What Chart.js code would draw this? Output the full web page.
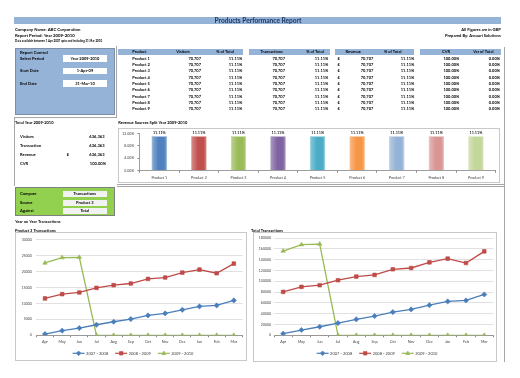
<!DOCTYPE html>
<html><head><meta charset="utf-8">
<script src="https://cdn.jsdelivr.net/npm/chart.js@4.4.1/dist/chart.umd.min.js"></script>
<style>
html,body{margin:0;padding:0;background:#fff;}
#root{position:relative;width:520px;height:378px;overflow:hidden;background:#fff;}
.b{position:absolute;box-sizing:border-box;}
canvas{position:absolute;}
#txt{left:0;top:0;pointer-events:none;z-index:5;}
</style></head><body><div id="root"><canvas id="txt" width="520" height="378"></canvas></div>
<script>
// ---------------- DATA ----------------
const products = ['Product 1','Product 2','Product 3','Product 4','Product 5','Product 6','Product 7','Product 8','Product 9'];
const visitors = [70707,70707,70707,70707,70707,70707,70707,70707,70707];
const visitorsPct = [11.11,11.11,11.11,11.11,11.11,11.11,11.11,11.11,11.11];
const transactions = [70707,70707,70707,70707,70707,70707,70707,70707,70707];
const transactionsPct = [11.11,11.11,11.11,11.11,11.11,11.11,11.11,11.11,11.11];
const revenue = [70707,70707,70707,70707,70707,70707,70707,70707,70707];
const revenuePct = [11.11,11.11,11.11,11.11,11.11,11.11,11.11,11.11,11.11];
const cvr = [100.00,100.00,100.00,100.00,100.00,100.00,100.00,100.00,100.00];
const varOfTotal = [0.00,0.00,0.00,0.00,0.00,0.00,0.00,0.00,0.00];

const totalLabels = ['Visitors','Transaction','Revenue','CVR'];
const totalValues = [636363,636363,636363,100.00];

const revenueShare = [11.11,11.11,11.11,11.11,11.11,11.11,11.11,11.11,11.11];
const shareTicks = [0,2,4,6,8,10,12];

const months = ['Apr','May','Jun','Jul','Aug','Sep','Oct','Nov','Dec','Jan','Feb','Mar'];
const seriesLabels = ['2007 - 2008','2008 - 2009','2009 - 2010'];
const p3Trans0708 = [400,1440,2280,3310,4250,5090,6250,6880,8000,9060,9380,10940];
const p3Trans0809 = [11560,12910,13440,14880,15720,16250,17690,18130,19690,20630,19470,22500];
const p3Trans0910 = [22690,24380,24470,0,0,0,0,0,0,0,0,0];
const totTrans0708 = [2950,9770,15860,22680,29500,35590,42970,47940,55870,62700,64540,75600];
const totTrans0809 = [80400,89620,92750,101970,108800,111750,122260,124650,135170,141990,133870,155450];
const totTrans0910 = [156000,167800,168910,0,0,0,0,0,0,0,0,0];

// ---------------- STYLE ----------------
const FONT = "Lato, 'Liberation Sans', sans-serif";
const HDR = '#95b3d7';
const barColors = ['#4f81bd','#c0504d','#9bbb59','#8064a2','#4bacc6','#f79646','#95b3d7','#d99694','#c3d69b'];
const lineColors = ['#4a7ebb','#be4b48','#98b954'];
const markerStyles = ['rectRot','rect','triangle'];
const markerRadius = [2.6,2.6,2.5];

const root = document.getElementById('root');
const txtCanvas = document.getElementById('txt');
const tctx = txtCanvas.getContext('2d');
function T(txt,x,y,o={}){
  const size=o.size||4.2;
  tctx.save();
  tctx.font=`${o.w||'bold'} ${size}px ${FONT}`;
  tctx.fillStyle=o.c||'#000';
  tctx.textAlign=o.a==='r'?'right':o.a==='c'?'center':'left';
  tctx.textBaseline='alphabetic';
  tctx.fillText(txt,x,y+size*0.36);
  tctx.restore();
}
function B(x,y,w,h,bg,border){
  const d=document.createElement('div'); d.className='b';
  d.style.left=x+'px'; d.style.top=y+'px'; d.style.width=w+'px'; d.style.height=h+'px';
  if(bg) d.style.background=bg; if(border) d.style.border=border;
  root.insertBefore(d,txtCanvas); return d;
}
const fmtN = n => n.toLocaleString('en-GB');
const fmtP = n => n.toFixed(2)+'%';

function build(){
// ---------------- HEADER ----------------
B(14,16.7,487,7.6,HDR);
T('Products Performance Report',258,20.6,{size:6.6,c:'#1f3864',a:'c'});
T('Company Name: ABC Corporation',15,29.3,{size:4.3});
T('Report Period: Year 2009-2010',15,35.4,{size:4.3});
T('Data available between 1 Apr 2007 upto and including 31 Mar 2010',15,41.3,{size:2.9});
T('All Figures are in GBP',500.7,29.3,{size:4.1,a:'r'});
T('Prepared By: Assauri Solutions',500.7,35.6,{size:4.1,a:'r'});

// frame lines
B(116.3,46,0.9,72,'#a6a6a6');
B(14,117.3,103,0.9,'#a6a6a6');
B(14,117.3,0.9,69,'#a6a6a6');
B(504.2,47,0.9,315,'#a6a6a6');
B(117,183.8,388,0.9,'#a6a6a6');
B(117,186,388,0.9,'#a6a6a6');

// ---------------- REPORT CONTROL ----------------
B(15,48,100,67,HDR,'0.8px solid #7f8fa6');
T('Report Control',20,52,{size:4.2});
const rcLabels=['Select Period','Start Date','End Date'];
const rcValues=['Year 2009-2010','1-Apr-09','31-Mar-10'];
const rcY=[58.6,71,83.4];
rcLabels.forEach((l,i)=>{
  T(l,20,rcY[i],{size:4.1});
  B(63,rcY[i]-3.2,44,6.4,'#fff');
  T(rcValues[i],85,rcY[i],{size:4,a:'c'});
});

// ---------------- TABLE ----------------
const groups=[[118,243],[249,330],[335,414],[420,500.5]];
groups.forEach(g=>B(g[0],48.5,g[1]-g[0],6,HDR));
const hy=51.5;
T('Product',132.3,hy,{size:4});
T('Visitors',183,hy,{size:4,a:'c'});
T('% of Total',225,hy,{size:4,a:'c'});
T('Transactions',271.7,hy,{size:4,a:'c'});
T('% of Total',315,hy,{size:4,a:'c'});
T('Revenue',353.3,hy,{size:4,a:'c'});
T('% of Total',392.7,hy,{size:4,a:'c'});
T('CVR',446,hy,{size:4,a:'c'});
T('Var of Total',483.3,hy,{size:4,a:'c'});
products.forEach((p,i)=>{
  const y=58.3+i*6.34;
  T(p,132.3,y,{size:4});
  T(fmtN(visitors[i]),201,y,{size:4,a:'r'});
  T(fmtP(visitorsPct[i]),242.3,y,{size:4,a:'r'});
  T(fmtN(transactions[i]),285,y,{size:4,a:'r'});
  T(fmtP(transactionsPct[i]),328.3,y,{size:4,a:'r'});
  T('£',337.5,y,{size:4});
  T(fmtN(revenue[i]),373.3,y,{size:4,a:'r'});
  T(fmtP(revenuePct[i]),414.3,y,{size:4,a:'r'});
  T(fmtP(cvr[i]),459.3,y,{size:4,a:'r'});
  T(fmtP(varOfTotal[i]),500,y,{size:4,a:'r'});
});

// ---------------- TOTALS ----------------
T('Total Year 2009-2010',15,122.3,{size:4});
const totY=[136.7,145.3,155,164];
totalLabels.forEach((l,i)=>{
  T(l,20,totY[i],{size:4.1});
  const v = l==='CVR'?fmtP(totalValues[i]):fmtN(totalValues[i]);
  T(v,l==='CVR'?106:104.5,totY[i],{size:4.1,a:'r'});
});
T('£',66.7,155,{size:4.1});

// ---------------- COMPARE BOX ----------------
B(15,187,100,28.5,'#92d050','0.8px solid #7f7f7f');
const cmpLabels=['Compare','Source','Against'];
const cmpValues=['Transactions','Product 3','Total'];
const cmpY=[194,202.5,211];
cmpLabels.forEach((l,i)=>{
  T(l,20,cmpY[i],{size:4.1});
  B(63,cmpY[i]-3,43.5,6,'#f2f2f2');
  T(cmpValues[i],84.8,cmpY[i],{size:4,a:'c'});
});

T('Year on Year Transactions',15,221.7,{size:4});
T('Product 3 Transactions',15,230.4,{size:4});
T('Total Transactions',251,230.4,{size:4});
T('Revenue Sources Split Year 2009-2010',118.3,122.3,{size:4});

// ---------------- CHART BOXES ----------------
B(118,128,382,54.5,null,'0.8px solid #c8c8c8');
B(15,232.3,231.8,128.6,null,'0.8px solid #c8c8c8');
B(252.7,232.3,244.8,129.5,null,'0.8px solid #c8c8c8');
}

// ---------------- CHARTS ----------------
Chart.defaults.font.family = FONT;
Chart.defaults.color = '#404040';

function mkCanvas(x,y,w,h){
  const c=document.createElement('canvas'); c.width=w; c.height=h;
  c.style.left=x+'px'; c.style.top=y+'px'; c.style.width=w+'px'; c.style.height=h+'px';
  c.style.zIndex=2;
  root.appendChild(c); return c;
}
function drawMarker(ctx,style,x,y,r,color){
  ctx.save(); ctx.fillStyle=color; ctx.strokeStyle=color; ctx.lineWidth=0.6; ctx.beginPath();
  if(style==='rectRot'){ctx.moveTo(x,y-r);ctx.lineTo(x+r,y);ctx.lineTo(x,y+r);ctx.lineTo(x-r,y);ctx.closePath();}
  else if(style==='rect'){const s=r*0.75;ctx.rect(x-s,y-s,2*s,2*s);}
  else {ctx.moveTo(x,y-r);ctx.lineTo(x+r*0.9,y+r*0.6);ctx.lineTo(x-r*0.9,y+r*0.6);ctx.closePath();}
  ctx.fill(); ctx.stroke(); ctx.restore();
}
const lineLegend={
  id:'lineLegend',
  afterDraw(chart,args,opts){
    const ctx=chart.ctx; ctx.save();
    ctx.font=`${opts.size}px ${FONT}`; ctx.textBaseline='middle'; ctx.fillStyle='#404040';
    const iconW=12, gap=1.5, space=7;
    const items=chart.data.datasets.map(d=>({text:d.label,color:d.borderColor,style:d.pointStyle,r:d.pointRadius}));
    let total=items.reduce((s,it)=>s+iconW+gap+ctx.measureText(it.text).width,0)+space*(items.length-1);
    let x=opts.cx-total/2; const y=opts.y;
    items.forEach(it=>{
      ctx.strokeStyle=it.color; ctx.lineWidth=1.2; ctx.beginPath(); ctx.moveTo(x,y); ctx.lineTo(x+iconW,y); ctx.stroke();
      drawMarker(ctx,it.style,x+iconW/2,y,it.r*0.9,it.color);
      ctx.fillStyle='#404040'; ctx.fillText(it.text,x+iconW+gap,y);
      x+=iconW+gap+ctx.measureText(it.text).width+space;
    });
    ctx.restore();
  }
};
function lineChart(x,y,w,h,area,yMax,yStep,sets,ylPad,legend){
  const cv=mkCanvas(x,y,w,h);
  return new Chart(cv,{
    type:'line',
    data:{labels:months,datasets:sets.map((s,i)=>({
      label:seriesLabels[i],data:s,borderColor:lineColors[i],backgroundColor:lineColors[i],
      pointStyle:markerStyles[i],pointRadius:markerRadius[i],pointBorderWidth:0.6,borderWidth:1.3,tension:0,fill:false}))},
    options:{responsive:false,animation:false,devicePixelRatio:1,events:[],
      layout:{padding:{left:0,right:w-area.r,top:area.t,bottom:0}},
      plugins:{legend:{display:false},tooltip:{enabled:false},lineLegend:legend},
      scales:{
        x:{offset:true,grid:{drawOnChartArea:false,drawTicks:true,tickLength:2,color:'#868686',offset:true},
           border:{color:'#868686',width:0.8},
           ticks:{font:{size:3.7},padding:2.4,maxRotation:0,autoSkip:false},
           afterFit(s){s.height=h-area.b;}},
        y:{min:0,max:yMax,ticks:{stepSize:yStep,font:{size:3.5},padding:ylPad,callback:v=>String(v)},
           grid:{color:'#d9d9d9',lineWidth:0.8,drawTicks:false},border:{display:false},
           afterFit(s){s.width=area.l;}}
      }},
    plugins:[lineLegend]
  });
}

function lighten(hex,f){const n=parseInt(hex.slice(1),16);let r=n>>16,g=(n>>8)&255,b=n&255;
  r=Math.round(r+(255-r)*f);g=Math.round(g+(255-g)*f);b=Math.round(b+(255-b)*f);return `rgb(${r},${g},${b})`;}
const barLabels={
  id:'barLabels',
  afterDatasetsDraw(chart){
    const ctx=chart.ctx; ctx.save(); ctx.font=`bold 3.8px ${FONT}`; ctx.fillStyle='#262626';
    ctx.textAlign='center'; ctx.textBaseline='middle';
    chart.getDatasetMeta(0).data.forEach((el,i)=>{ctx.fillText(fmtP(chart.data.datasets[0].data[i]),el.x,el.y-3.2);});
    ctx.restore();
  }
};

function charts(){
lineChart(15,233,232,128,{l:21.4,r:227.6,t:4.7,b:102.3},30000,5000,[p3Trans0708,p3Trans0809,p3Trans0910],4.6,{y:120.3,cx:118,size:4});
lineChart(253,233,245,128,{l:21,r:243.6,t:4.7,b:102.3},180000,20000,[totTrans0708,totTrans0809,totTrans0910],3,{y:120.3,cx:124,size:4});

const barCanvas=mkCanvas(118,128,382,55);
new Chart(barCanvas,{
  type:'bar',
  data:{labels:products,datasets:[{data:revenueShare,
    backgroundColor(c){
      const col=barColors[c.dataIndex%barColors.length];
      const ch=c.chart; if(!ch.chartArea||c.type!=='data') return col;
      const xs=ch.scales.x; const cx=xs.getPixelForValue(c.dataIndex); const w=(ch.chartArea.width/products.length)*0.39;
      const g=ch.ctx.createLinearGradient(cx-w/2,0,cx+w/2,0);
      g.addColorStop(0,lighten(col,0.35)); g.addColorStop(0.45,col); g.addColorStop(0.8,col); g.addColorStop(1,lighten(col,0.3));
      return g;
    },
    borderColor:barColors.map(c=>lighten(c,0.2)),borderWidth:0.6,
    categoryPercentage:1,barPercentage:0.39}]},
  options:{responsive:false,animation:false,devicePixelRatio:1,events:[],
    layout:{padding:{left:0,right:382-377.7,top:2.7,bottom:0}},
    plugins:{legend:{display:false},tooltip:{enabled:false}},
    scales:{
      x:{grid:{drawOnChartArea:false,drawTicks:true,tickLength:2,color:'#868686',offset:true},
         border:{color:'#868686',width:0.8},
         ticks:{font:{size:3.7},padding:2.6,maxRotation:0,autoSkip:false},
         afterFit(s){s.height=55-42.7;}},
      y:{min:0,max:12,afterBuildTicks(s){s.ticks=shareTicks.map(v=>({value:v}));},
         ticks:{font:{size:3.5},padding:3.5,callback:v=>fmtP(v)},
         grid:{drawOnChartArea:false,drawTicks:true,tickLength:2,color:'#868686'},
         border:{color:'#868686',width:0.8},
         afterFit(s){s.width=21.5;}}
    }},
  plugins:[barLabels]
});
}

const go=()=>{build();charts();};
if(document.fonts&&document.fonts.load){
  Promise.all([document.fonts.load(`bold 10px Lato`),document.fonts.load(`10px Lato`)]).then(go,go);
} else go();
</script></body></html>
